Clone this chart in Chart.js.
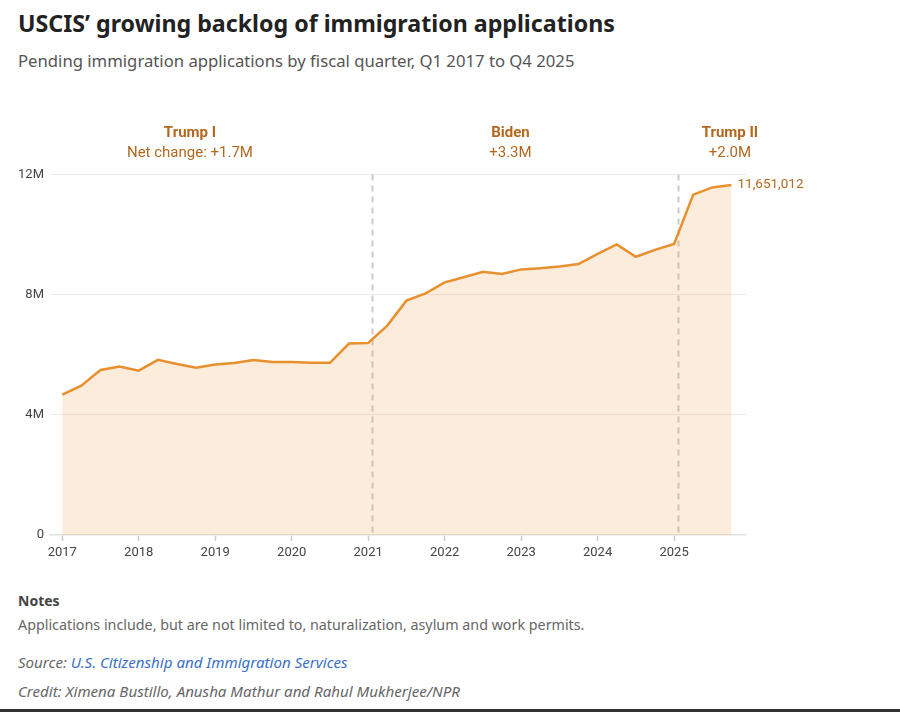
<!DOCTYPE html>
<html>
<head>
<meta charset="utf-8">
<script src="https://cdn.jsdelivr.net/npm/chart.js@4"></script>
<style>
  body { margin: 0; background: #fff; font-family: "Noto Sans", Roboto, sans-serif; }
  #page { position: relative; width: 900px; height: 712px; overflow: hidden; }
  h1 { position: absolute; left: 18px; top: 7px; margin: 0; font-size: 23.2px; font-weight: 700; color: #222; }
  .sub { position: absolute; left: 18px; top: 49px; font-size: 16.7px; color: #555; }
  #wrap { position: absolute; left: 0; top: 92px; width: 900px; height: 480px; }
  .notes { position: absolute; left: 18px; top: 591px; font-size: 14px; color: #555; }
  .notes b { display: block; font-weight: 700; color: #444; }
  .notes .txt { font-size: 14.3px; color: #666; margin-top: 5px; }
  .src { position: absolute; left: 18px; top: 652px; font-size: 15.1px; font-style: italic; color: #666; }
  .src span { color: #3a6fc9; }
  .credit { position: absolute; left: 18px; top: 681px; font-size: 15.1px; font-style: italic; color: #666; }
  .bar { position: absolute; left: 0; bottom: 0; width: 900px; height: 3px; background: #333; }
</style>
</head>
<body>
<div id="page">
  <h1>USCIS’ growing backlog of immigration applications</h1>
  <div class="sub">Pending immigration applications by fiscal quarter, Q1 2017 to Q4 2025</div>
  <div id="wrap"><canvas id="chart"></canvas></div>
  <div class="notes"><b>Notes</b><div class="txt">Applications include, but are not limited to, naturalization, asylum and work permits.</div></div>
  <div class="src">Source: <span>U.S. Citizenship and Immigration Services</span></div>
  <div class="credit">Credit: Ximena Bustillo, Anusha Mathur and Rahul Mukherjee/NPR</div>
  <div class="bar"></div>
</div>
<script>
const quarters = [
  "Q1 2017", "Q2 2017", "Q3 2017", "Q4 2017",
  "Q1 2018", "Q2 2018", "Q3 2018", "Q4 2018",
  "Q1 2019", "Q2 2019", "Q3 2019", "Q4 2019",
  "Q1 2020", "Q2 2020", "Q3 2020", "Q4 2020",
  "Q1 2021", "Q2 2021", "Q3 2021", "Q4 2021",
  "Q1 2022", "Q2 2022", "Q3 2022", "Q4 2022",
  "Q1 2023", "Q2 2023", "Q3 2023", "Q4 2023",
  "Q1 2024", "Q2 2024", "Q3 2024", "Q4 2024",
  "Q1 2025", "Q2 2025", "Q3 2025", "Q4 2025",
];
const pending = [
  4670000, 4970000, 5490000, 5610000,
  5470000, 5830000, 5690000, 5570000,
  5670000, 5720000, 5820000, 5760000,
  5760000, 5730000, 5730000, 6370000,
  6390000, 6970000, 7800000, 8040000,
  8410000, 8580000, 8760000, 8690000,
  8840000, 8880000, 8940000, 9020000,
  9360000, 9670000, 9260000, 9490000,
  9690000, 11330000, 11570000, 11651012,
];
const yearTicks = [2017, 2018, 2019, 2020, 2021, 2022, 2023, 2024, 2025];
const valueTicks = [0, 4000000, 8000000, 12000000];
const valueTickLabels = ["0", "4M", "8M", "12M"];

// presidential terms
const termStarts = [2021.05, 2025.05];
const eraNames = ["Trump I", "Biden", "Trump II"];
const eraChanges = ["Net change: +1.7M", "+3.3M", "+2.0M"];
const eraLabelAt = [2018.67, 2022.86, 2025.73];

const orange = "#e8902e";
const brown = "#b3671f";

// quarter label -> position on the year axis
function quarterPos(label) {
  const [q, y] = label.split(" ");
  return Number(y) + (Number(q.slice(1)) - 1) / 4;
}

const points = quarters.map((q, i) => ({ x: quarterPos(q), y: pending[i] }));

const decorations = {
  id: "decorations",
  beforeDatasetsDraw(chart) {
    const { ctx, chartArea, scales } = chart;
    ctx.save();
    ctx.strokeStyle = "#cfcac5";
    ctx.lineWidth = 2;
    ctx.setLineDash([6, 5]);
    termStarts.forEach((t) => {
      const x = Math.round(scales.x.getPixelForValue(t)) + 0.5;
      ctx.beginPath();
      ctx.moveTo(x, chartArea.top);
      ctx.lineTo(x, chartArea.bottom);
      ctx.stroke();
    });
    ctx.restore();
  },
  afterDatasetsDraw(chart) {
    const { ctx, scales } = chart;
    ctx.save();
    ctx.fillStyle = brown;
    ctx.textAlign = "center";
    ctx.textBaseline = "middle";
    eraNames.forEach((name, i) => {
      const x = scales.x.getPixelForValue(eraLabelAt[i]);
      ctx.font = "700 15px Roboto, sans-serif";
      ctx.fillText(name, x, 41);
      ctx.font = "400 15px Roboto, sans-serif";
      ctx.fillText(eraChanges[i], x, 61);
    });
    const last = points[points.length - 1];
    ctx.textAlign = "left";
    ctx.font = "400 13.5px Roboto, sans-serif";
    ctx.fillText(
      last.y.toLocaleString("en-US"),
      scales.x.getPixelForValue(last.x) + 6,
      scales.y.getPixelForValue(last.y)
    );
    ctx.restore();
  },
};

new Chart(document.getElementById("chart"), {
  type: "line",
  data: {
    datasets: [
      {
        data: points,
        borderColor: orange,
        borderWidth: 2.5,
        backgroundColor: "rgba(240,150,60,0.18)",
        fill: "origin",
        pointRadius: 0,
        tension: 0,
      },
    ],
  },
  options: {
    responsive: true,
    maintainAspectRatio: false,
    animation: false,
    layout: { padding: { top: 82.5, right: 154, bottom: 7.5, left: 0 } },
    plugins: { legend: { display: false }, tooltip: { enabled: false } },
    scales: {
      x: {
        type: "linear",
        min: 2016.84,
        max: 2025.94,
        afterBuildTicks: (scale) => {
          scale.ticks = yearTicks.map((v) => ({ value: v }));
        },
        grid: {
          drawOnChartArea: false,
          drawTicks: true,
          tickLength: 6,
          tickColor: "#cccccc",
          tickWidth: 1.5,
        },
        border: { display: true, color: "#e2e2e2", width: 1.5 },
        ticks: {
          padding: 4,
          color: "#444",
          font: { family: "Roboto, sans-serif", size: 13 },
          callback: (v) => String(v),
        },
      },
      y: {
        min: 0,
        max: 12000000,
        afterFit: (scale) => {
          scale.width = 50;
        },
        afterBuildTicks: (scale) => {
          scale.ticks = valueTicks.map((v) => ({ value: v }));
        },
        grid: { color: "#e9e9e9", drawTicks: false, lineWidth: 1 },
        border: { display: false },
        ticks: {
          padding: 6,
          color: "#444",
          font: { family: "Roboto, sans-serif", size: 13 },
          callback: (v) => valueTickLabels[valueTicks.indexOf(v)],
        },
      },
    },
  },
  plugins: [decorations],
});
</script>
</body>
</html>
